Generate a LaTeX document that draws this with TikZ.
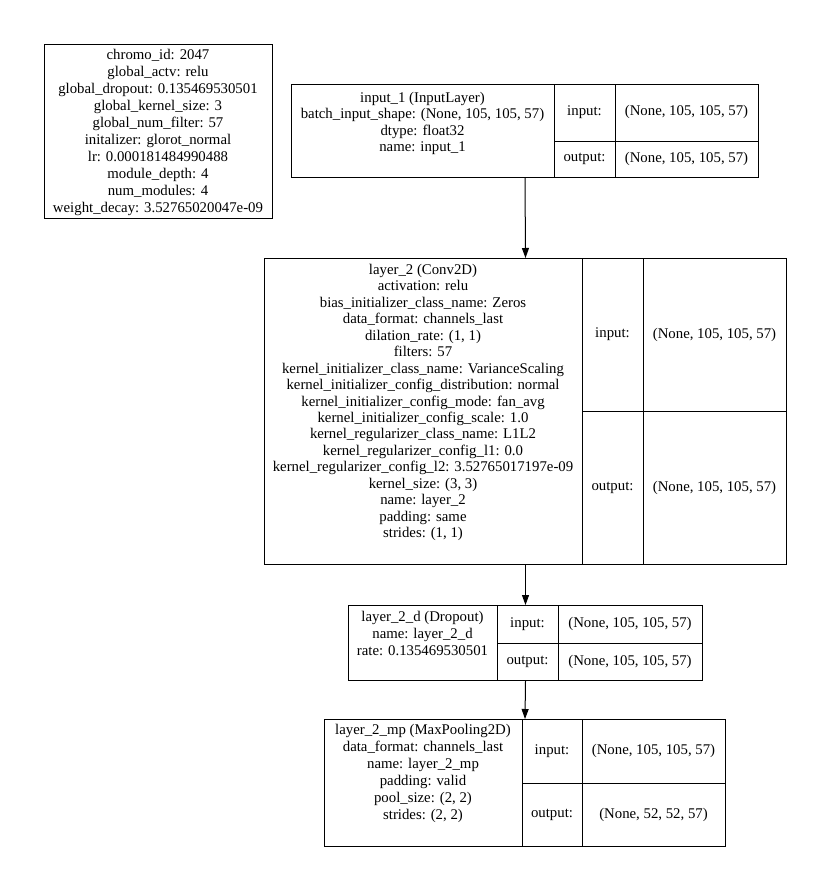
\documentclass[tikz,border=0pt]{standalone}
\usepackage{fontspec}
\setmainfont{Liberation Serif}
\usetikzlibrary{arrows.meta}
\begin{document}
\begin{tikzpicture}[x=1pt,y=-1pt,
  box/.style={draw, line width=1pt, inner sep=0pt, anchor=north west},
  txt/.style={align=center, font=\fontsize{14.8}{#1}\selectfont, inner sep=0pt},
  txt/.default=17,
  cell/.style={line width=1pt},
  flow/.style={-{Triangle[length=10pt,width=7pt]}, line width=1pt}]
\useasboundingbox (0,0) rectangle (830,891);

% chromosome box
\node[box, minimum width=228pt, minimum height=174pt] (chromo) at (44,44) {};
\node[txt=17] (chromotxt) at (158,132.4) {chromo\_id: 2047\\global\_actv: relu\\global\_dropout: 0.135469530501\\global\_kernel\_size: 3\\global\_num\_filter: 57\\initalizer: glorot\_normal\\lr: 0.000181484990488\\module\_depth: 4\\num\_modules: 4\\weight\_decay: 3.52765020047e-09};

% input layer
\node[box, minimum width=467pt, minimum height=93pt] (in) at (291,84) {};
\draw[cell] (554,84) -- (554,177);
\draw[cell] (615,84) -- (615,177);
\draw[cell] (554,141) -- (758,141);
\node[txt=16.3] (intxt) at (422.5,123.3) {input\_1 (InputLayer)\\batch\_input\_shape: (None, 105, 105, 57)\\dtype: float32\\name: input\_1};
\node[txt] (inlabi) at (584.5,112) {input:};
\node[txt] (inshpi) at (686.5,112) {(None, 105, 105, 57)};
\node[txt] (inlabo) at (584.5,159) {output:};
\node[txt] (inshpo) at (686.5,159) {(None, 105, 105, 57)};

% conv layer
\node[box, minimum width=522pt, minimum height=306pt] (conv) at (264,258) {};
\draw[cell] (582,258) -- (582,564);
\draw[cell] (643,258) -- (643,564);
\draw[cell] (582,411) -- (786,411);
\node[txt=16.45] (convtxt) at (423,402.5) {layer\_2 (Conv2D)\\activation: relu\\bias\_initializer\_class\_name: Zeros\\data\_format: channels\_last\\dilation\_rate: (1, 1)\\filters: 57\\kernel\_initializer\_class\_name: VarianceScaling\\kernel\_initializer\_config\_distribution: normal\\kernel\_initializer\_config\_mode: fan\_avg\\kernel\_initializer\_config\_scale: 1.0\\kernel\_regularizer\_class\_name: L1L2\\kernel\_regularizer\_config\_l1: 0.0\\kernel\_regularizer\_config\_l2: 3.52765017197e-09\\kernel\_size: (3, 3)\\name: layer\_2\\padding: same\\strides: (1, 1)};
\node[txt] (convlabi) at (612.5,334.5) {input:};
\node[txt] (convshpi) at (714.5,334.5) {(None, 105, 105, 57)};
\node[txt] (convlabo) at (612.5,487.5) {output:};
\node[txt] (convshpo) at (714.5,487.5) {(None, 105, 105, 57)};

% dropout layer
\node[box, minimum width=354pt, minimum height=75pt] (drop) at (348,605) {};
\draw[cell] (497,605) -- (497,680);
\draw[cell] (558,605) -- (558,680);
\draw[cell] (497,643) -- (702,643);
\node[txt=17] (droptxt) at (422.5,633.3) {layer\_2\_d (Dropout)\\name: layer\_2\_d\\rate: 0.135469530501};
\node[txt] (droplabi) at (527.5,624) {input:};
\node[txt] (dropshpi) at (630,624) {(None, 105, 105, 57)};
\node[txt] (droplabo) at (527.5,661.5) {output:};
\node[txt] (dropshpo) at (630,661.5) {(None, 105, 105, 57)};

% maxpool layer
\node[box, minimum width=401pt, minimum height=127pt] (mp) at (324,719) {};
\draw[cell] (522,719) -- (522,846);
\draw[cell] (582,719) -- (582,846);
\draw[cell] (522,783) -- (725,783);
\node[txt=17] (mptxt) at (423,773.3) {layer\_2\_mp (MaxPooling2D)\\data\_format: channels\_last\\name: layer\_2\_mp\\padding: valid\\pool\_size: (2, 2)\\strides: (2, 2)};
\node[txt] (mplabi) at (552,751) {input:};
\node[txt] (mpshpi) at (653.5,751) {(None, 105, 105, 57)};
\node[txt] (mplabo) at (552,814.5) {output:};
\node[txt] (mpshpo) at (653.5,814.5) {(None, 52, 52, 57)};

% connectors
\draw[flow] (in.south) -- (conv.north);
\draw[flow] (conv.south) -- (drop.north);
\draw[flow] (drop.south) -- (mp.north);
\end{tikzpicture}
\end{document}
